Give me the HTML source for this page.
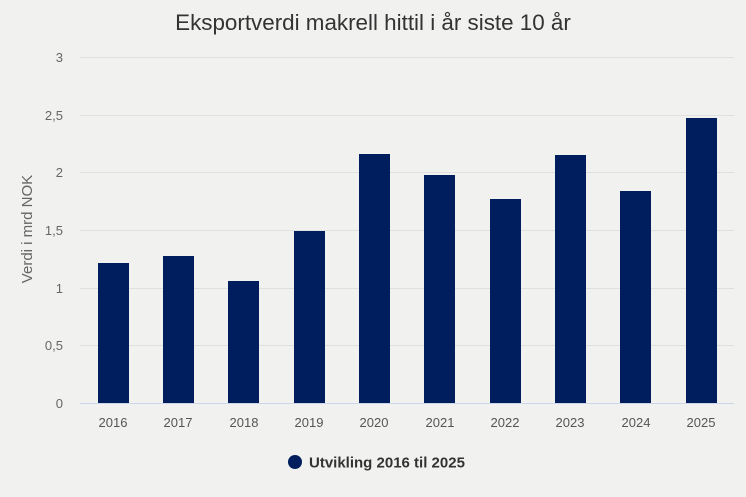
<!DOCTYPE html>
<html><head><meta charset="utf-8"><style>
body{margin:0;background:#f1f2f0;}
svg{display:block;font-family:"Liberation Sans",sans-serif;}
</style></head><body>
<svg width="746" height="497" viewBox="0 0 746 497">
<rect width="746" height="497" fill="#f1f2f0"/>
<text x="373" y="30" text-anchor="middle" font-size="22.4" fill="#333">Eksportverdi makrell hittil i år siste 10 år</text>
<g stroke="#e0e0e0" stroke-width="1">
<line x1="80" x2="734" y1="57.5" y2="57.5"/>
<line x1="80" x2="734" y1="115.5" y2="115.5"/>
<line x1="80" x2="734" y1="172.5" y2="172.5"/>
<line x1="80" x2="734" y1="230.5" y2="230.5"/>
<line x1="80" x2="734" y1="288.5" y2="288.5"/>
<line x1="80" x2="734" y1="345.5" y2="345.5"/>
</g>
<line x1="80" x2="734" y1="403.5" y2="403.5" stroke="#ccd6eb"/>
<g font-size="13" fill="#666" text-anchor="end">
<text x="63" y="62">3</text>
<text x="63" y="120">2,5</text>
<text x="63" y="177">2</text>
<text x="63" y="235">1,5</text>
<text x="63" y="293">1</text>
<text x="63" y="350">0,5</text>
<text x="63" y="408">0</text>
</g>
<text transform="translate(32,229) rotate(-90)" text-anchor="middle" font-size="15" fill="#666">Verdi i mrd NOK</text>
<g fill="#001e5e">
<rect x="98" y="263" width="31" height="140"/>
<rect x="163" y="256" width="31" height="147"/>
<rect x="228" y="281" width="31" height="122"/>
<rect x="294" y="231" width="31" height="172"/>
<rect x="359" y="154" width="31" height="249"/>
<rect x="424" y="175" width="31" height="228"/>
<rect x="490" y="199" width="31" height="204"/>
<rect x="555" y="155" width="31" height="248"/>
<rect x="620" y="191" width="31" height="212"/>
<rect x="686" y="118" width="31" height="285"/>
</g>
<g font-size="13" fill="#555" text-anchor="middle">
<text x="113" y="427">2016</text>
<text x="178" y="427">2017</text>
<text x="244" y="427">2018</text>
<text x="309" y="427">2019</text>
<text x="374" y="427">2020</text>
<text x="440" y="427">2021</text>
<text x="505" y="427">2022</text>
<text x="570" y="427">2023</text>
<text x="636" y="427">2024</text>
<text x="701" y="427">2025</text>
</g>
<circle cx="295" cy="462" r="7" fill="#001e5e"/>
<text x="309" y="467.5" font-size="15" font-weight="bold" fill="#333">Utvikling 2016 til 2025</text>
</svg>
</body></html>
